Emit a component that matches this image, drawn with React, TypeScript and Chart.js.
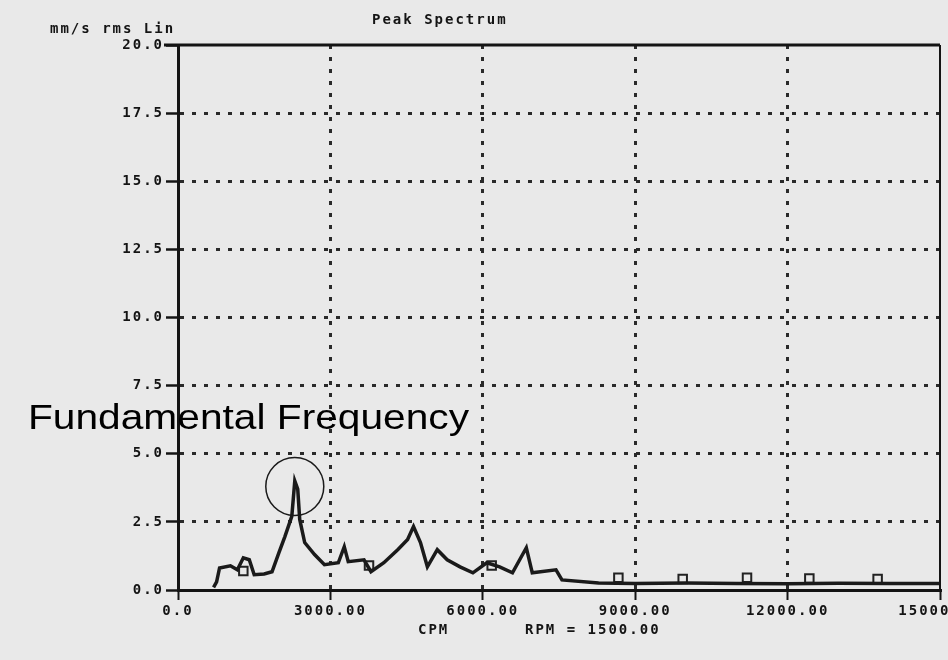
import { useEffect, useRef } from "react";
import { Chart, registerables } from "chart.js";

Chart.register(...registerables);

// ---- data ----
const yTickValues = [0, 2.5, 5, 7.5, 10, 12.5, 15, 17.5, 20];
const yTickLabels = ["0.0", "2.5", "5.0", "7.5", "10.0", "12.5", "15.0", "17.5", "20.0"];
const xTickValues = [0, 3000, 6000, 9000, 12000, 15000];
const xTickLabels = ["0.0", "3000.00", "6000.00", "9000.00", "12000.00", "15000.00"];

const spectrumCpm = [
  700, 760, 818, 1032, 1169, 1286, 1403, 1500, 1695, 1851, 1987, 2104, 2240, 2299, 2357, 2396, 2494,
  2688, 2883, 3156, 3273, 3351, 3662, 3799, 4052, 4325, 4520, 4636, 4773, 4909, 5104, 5299,
  5552, 5805, 6078, 6331, 6584, 6857, 6974, 7441, 7558, 8279, 9000, 10000, 11000, 12000, 13000,
  14000, 15000,
];
const spectrumAmp = [
  0.1, 0.3, 0.81, 0.89, 0.74, 1.18, 1.11, 0.56, 0.59, 0.67, 1.37, 1.96, 2.7, 4.0, 3.7, 2.59, 1.74,
  1.3, 0.93, 1.0, 1.59, 1.04, 1.11, 0.67, 1.0, 1.48, 1.85, 2.33, 1.74, 0.85, 1.48, 1.11,
  0.85, 0.63, 1.0, 0.85, 0.63, 1.55, 0.63, 0.74, 0.37, 0.26, 0.24, 0.26, 0.24, 0.23, 0.25,
  0.24, 0.24,
];

const markerCpm = [1286, 3760, 6175, 8669, 9935, 11201, 12428, 13772];
const markerAmp = [0.7, 0.9, 0.9, 0.45, 0.4, 0.45, 0.42, 0.4];

const peakCpm = 2299;
const peakCircleAmp = 3.8;

const unitText = "mm/s rms Lin";
const titleText = "Peak Spectrum";
const xTitleText = "CPM";
const rpmText = "RPM = 1500.00";
const annotationText = "Fundamental Frequency";

const INK = "#141414";
const GRID = "#2a2a2a";
const BG = "#e9e9e9";
const monoFont = { family: "'DejaVu Sans Mono', monospace", size: 14, weight: "bold" as const };

const decorPlugin = {
  id: "decor",
  beforeUpdate(chart: any) {
    chart.ctx.letterSpacing = "2px";
  },
  beforeDraw(chart: any) {
    const { ctx, width, height } = chart;
    ctx.save();
    ctx.fillStyle = BG;
    ctx.fillRect(0, 0, width, height);
    ctx.restore();
    ctx.letterSpacing = "2px";
  },
  afterDraw(chart: any) {
    const { ctx, chartArea: a, scales } = chart;
    const xs = scales.x;
    const ys = scales.y;
    ctx.save();
    // solid top frame and thin right frame
    ctx.strokeStyle = INK;
    ctx.lineWidth = 3;
    ctx.beginPath();
    ctx.moveTo(a.left - 14, a.top);
    ctx.lineTo(a.right, a.top);
    ctx.stroke();
    ctx.lineWidth = 2;
    ctx.beginPath();
    ctx.moveTo(a.right, a.top);
    ctx.lineTo(a.right, a.bottom);
    ctx.stroke();

    // header and footer texts
    ctx.fillStyle = INK;
    ctx.font = "bold 14px 'DejaVu Sans Mono', monospace";
    ctx.letterSpacing = "2px";
    ctx.textBaseline = "alphabetic";
    ctx.textAlign = "left";
    ctx.fillText(unitText, 50, 33);
    ctx.fillText(titleText, 372, 24);
    ctx.fillText(xTitleText, 418, 634);
    ctx.fillText(rpmText, 525, 634);

    // circle around the fundamental peak
    const cx = xs.getPixelForValue(peakCpm);
    const cy = ys.getPixelForValue(peakCircleAmp);
    ctx.lineWidth = 1.5;
    ctx.strokeStyle = "#1a1a1a";
    ctx.beginPath();
    ctx.arc(cx, cy, 29, 0, Math.PI * 2);
    ctx.stroke();

    // annotation text
    ctx.letterSpacing = "0px";
    ctx.font = "35px 'Liberation Sans', Arial, sans-serif";
    const w = ctx.measureText(annotationText).width;
    const targetW = 441;
    ctx.translate(28, 429);
    ctx.scale(targetW / w, 1);
    ctx.fillStyle = "#000";
    ctx.fillText(annotationText, 0, 0);
    ctx.restore();
    ctx.letterSpacing = "2px";
  },
};

export default function App() {
  const ref = useRef<HTMLCanvasElement | null>(null);

  useEffect(() => {
    if (!ref.current) return;
    const gridColor = (max: number) => (c: any) =>
      c.tick && (c.tick.value === 0 || c.tick.value === max) ? "rgba(0,0,0,0)" : GRID;

    const chart = new Chart(ref.current, {
      type: "line",
      data: {
        datasets: [
          {
            label: "Spectrum",
            data: spectrumCpm.map((v, i) => ({ x: v, y: spectrumAmp[i] })),
            borderColor: "#1a1a1a",
            borderWidth: 3.5,
            pointRadius: 0,
            tension: 0,
            fill: false,
          },
          {
            type: "scatter" as any,
            label: "Markers",
            data: markerCpm.map((v, i) => ({ x: v, y: markerAmp[i] })),
            pointStyle: "rect",
            pointRadius: 6,
            borderColor: "#222",
            borderWidth: 2,
            backgroundColor: "rgba(0,0,0,0)",
            showLine: false,
          } as any,
        ],
      },
      options: {
        animation: false,
        responsive: false,
        layout: { padding: { left: 0, right: 4, top: 45, bottom: 0 } },
        plugins: {
          legend: { display: false },
          tooltip: { enabled: false },
          title: { display: false },
        },
        scales: {
          x: {
            type: "linear",
            min: 0,
            max: 15000,
            afterBuildTicks: (s: any) => {
              s.ticks = xTickValues.map((v) => ({ value: v }));
            },
            afterFit: (s: any) => {
              s.height = 70;
              s.paddingLeft = 0;
              s.paddingRight = 0;
            },
            ticks: {
              callback: (_v: any, i: number) => xTickLabels[i],
              font: monoFont,
              color: INK,
              padding: 3,
              maxRotation: 0,
              autoSkip: false,
            },
            grid: {
              color: gridColor(15000),
              lineWidth: 3,
              tickLength: 10,
              tickColor: INK,
              tickWidth: 2,
            },
            border: { display: true, color: INK, width: 3, dash: [4, 8] },
          },
          y: {
            type: "linear",
            min: 0,
            max: 20,
            afterBuildTicks: (s: any) => {
              s.ticks = yTickValues.map((v) => ({ value: v }));
            },
            afterFit: (s: any) => {
              s.width = 178;
              s.paddingTop = 0;
              s.paddingBottom = 0;
            },
            ticks: {
              callback: (_v: any, i: number) => yTickLabels[i],
              font: monoFont,
              color: INK,
              padding: 2,
              autoSkip: false,
            },
            grid: {
              color: gridColor(20),
              lineWidth: 3,
              tickLength: 12,
              tickColor: INK,
              tickWidth: 2.5,
            },
            border: { display: true, color: INK, width: 3, dash: [4, 8] },
          },
        },
      } as any,
      plugins: [decorPlugin],
    });
    return () => chart.destroy();
  }, []);

  return (
    <div style={{ position: "absolute", left: 0, top: 0, width: 948, height: 660, background: BG }}>
      <canvas ref={ref} width={948} height={660} style={{ display: "block" }} />
    </div>
  );
}
